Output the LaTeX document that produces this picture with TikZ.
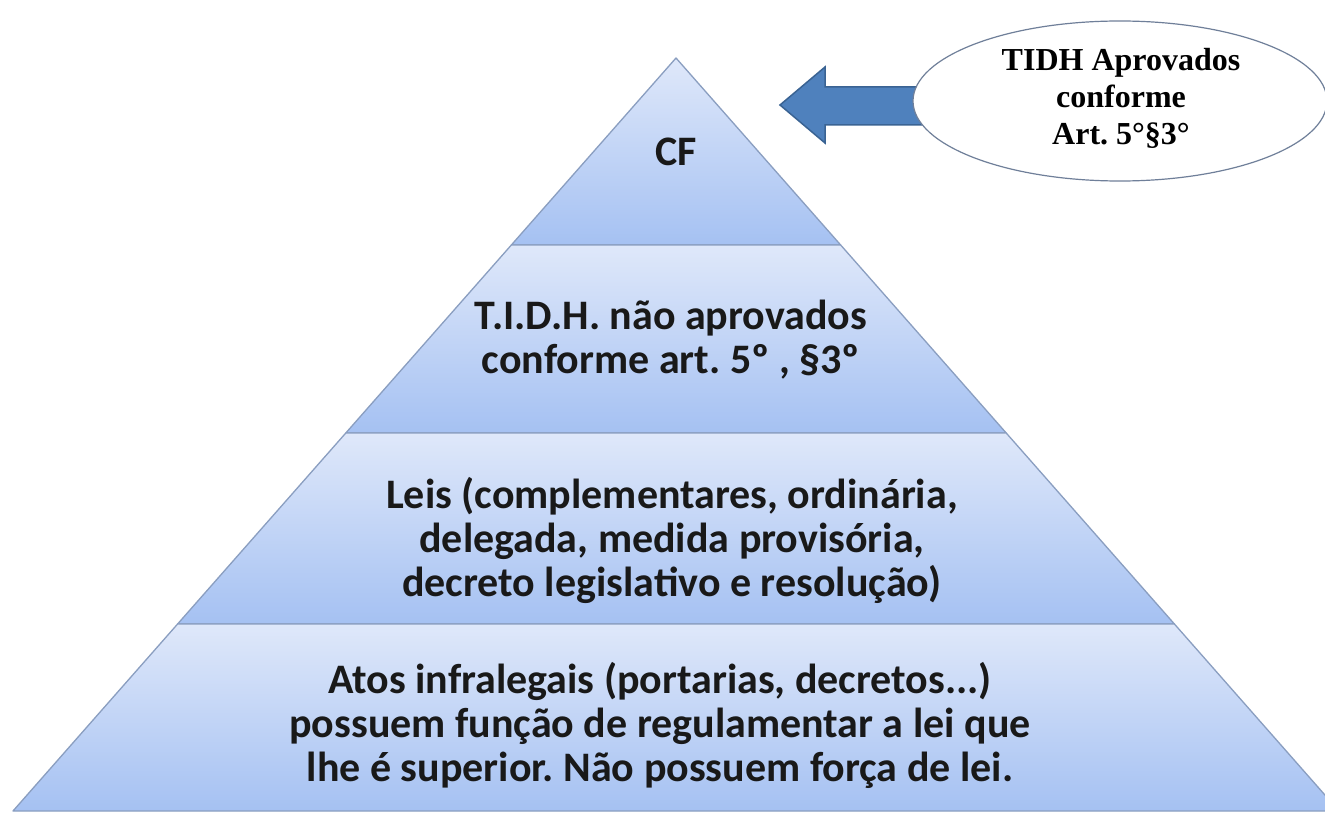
\documentclass[tikz,border=0pt]{standalone}
\usepackage{fontspec}
\usetikzlibrary{shapes.geometric}
\newfontfamily\calfont{Carlito}
\newfontfamily\tmsfont{Liberation Serif}
\definecolor{laytop}{HTML}{DFE8FA}
\definecolor{laybot}{HTML}{A5C1F2}
\definecolor{layline}{HTML}{8A9EC0}
\definecolor{arrfill}{HTML}{4F81BD}
\definecolor{arrline}{HTML}{3A6393}
\definecolor{ovline}{HTML}{6F7F99}
\frenchspacing
\begin{document}
\begin{tikzpicture}[x=1pt,y=-1pt,
  layerbox/.style={top color=laytop, bottom color=laybot, draw=layline, line width=1.3pt, line join=round},
  lbl/.style={font=\calfont\bfseries\fontsize{42}{44}\selectfont, align=center, text=black!90, inner sep=0pt},
  ovlbl/.style={font=\tmsfont\bfseries\fontsize{32}{37}\selectfont, align=center, text=black, inner sep=0pt},
  blockarrow/.style={fill=arrfill, draw=arrline, line width=1.5pt, line join=miter}]
\useasboundingbox (0,0) rectangle (1325,813);
\clip (0,0) rectangle (1325,813);
\fill[white] (0,0) rectangle (1325,813);
% pyramid layers
\path[layerbox] (676,58) -- (840.65,245) -- (511.35,245) -- cycle;
\path[layerbox] (511.35,245) -- (840.65,245) -- (1006.2,433) -- (345.8,433) -- cycle;
\path[layerbox] (345.8,433) -- (1006.2,433) -- (1174.4,624) -- (177.6,624) -- cycle;
\path[layerbox] (177.6,624) -- (1174.4,624) -- (1339,811) -- (13,811) -- cycle;
% labels
\node[lbl] (cf) at (676,152) {CF};
\node[lbl] (tidh) at (671,340) {T.I.D.H. não aprovados\\conforme art. 5º , §3º};
\node[lbl] (leis) at (672,540) {Leis (complementares, ordinária,\\delegada, medida provisória,\\decreto legislativo e resolução)};
\node[lbl] (atos) at (660,725) {Atos infralegais (portarias, decretos...)\\possuem função de regulamentar a lei que\\lhe é superior. Não possuem força de lei.};
% block arrow
\coordinate (tip) at (780,105);
\path[blockarrow] (tip) -- (825,67) -- (825,87) -- (935,87) -- (935,125) -- (825,125) -- (825,143) -- cycle;
% oval
\node[ellipse, draw=ovline, fill=white, line width=1.2pt, minimum width=414pt, minimum height=160pt, inner sep=0pt] (oval) at (1120,101) {};
\node[ovlbl] (ovtext) at (1121,98) {TIDH Aprovados\\conforme\\Art. 5°§3°};
\end{tikzpicture}
\end{document}
